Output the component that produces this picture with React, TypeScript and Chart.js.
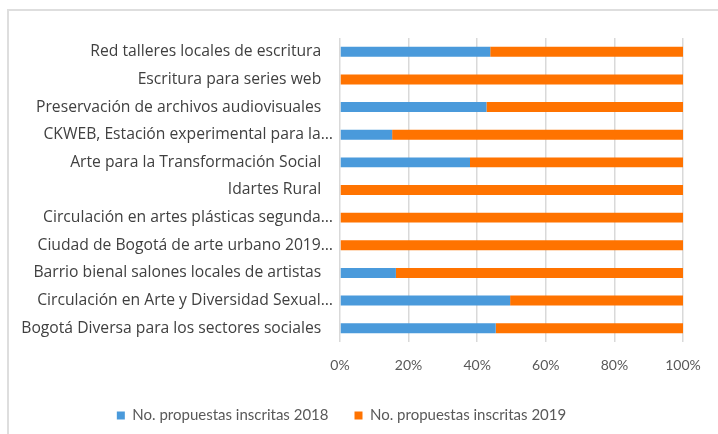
import React, { useEffect, useRef } from "react";
import { Chart, registerables } from "chart.js";

Chart.register(...registerables);

const categories = [
  "Red talleres locales de escritura",
  "Escritura para series web",
  "Preservación de archivos audiovisuales",
  "CKWEB, Estación experimental para la…",
  "Arte para la Transformación Social",
  "Idartes Rural",
  "Circulación en artes plásticas segunda…",
  "Ciudad de Bogotá de arte urbano 2019…",
  "Barrio bienal salones locales de artistas",
  "Circulación en Arte y Diversidad Sexual…",
  "Bogotá Diversa para los sectores sociales",
];

const share2018 = [43.8, 0, 42.7, 15.2, 37.9, 0, 0, 0, 16.3, 49.6, 45.4];
const share2019 = [56.2, 100, 57.3, 84.8, 62.1, 100, 100, 100, 83.7, 50.4, 54.6];

const xTicks = [0, 20, 40, 60, 80, 100];

const seriesNames = ["No. propuestas inscritas 2018", "No. propuestas inscritas 2019"];

export default function App() {
  const ref = useRef<HTMLCanvasElement | null>(null);

  useEffect(() => {
    if (!ref.current) return;
    const font = "Lato, 'Open Sans', sans-serif";
    const yFont = "'Open Sans', Lato, sans-serif";
    const chart = new Chart(ref.current, {
      type: "bar",
      data: {
        labels: categories,
        datasets: [
          {
            label: seriesNames[0],
            data: share2018,
            backgroundColor: "#4A9ADB",
            borderWidth: 0,
            barPercentage: 0.72,
            categoryPercentage: 0.5,
          },
          {
            label: seriesNames[1],
            data: share2019,
            backgroundColor: "#FF7300",
            borderWidth: 0,
            barPercentage: 0.72,
            categoryPercentage: 0.5,
          },
        ],
      },
      options: {
        indexAxis: "y",
        animation: false,
        responsive: false,
        maintainAspectRatio: false,
        layout: { padding: { left: 0, right: 35, top: 38, bottom: 1 } },
        scales: {
          x: {
            stacked: true,
            min: 0,
            max: 100,
            afterBuildTicks: (scale: any) => {
              scale.ticks = xTicks.map((v) => ({ value: v }));
            },
            afterFit: (scale: any) => {
              scale.height = 40;
            },
            grid: {
              color: "#d9d9d9",
              lineWidth: 1.5,
              drawTicks: true,
              tickLength: 1,
              tickColor: "rgba(0,0,0,0)",
            },
            border: { display: false },
            ticks: {
              padding: 14,
              color: "#595959",
              font: { family: font, size: 14 },
              callback: (v: any) => v + "%",
            },
          },
          y: {
            stacked: true,
            afterFit: (scale: any) => {
              scale.width = 340;
            },
            grid: { display: false, drawTicks: false },
            border: { display: false },
            ticks: {
              padding: 7,
              color: "#404040",
              font: { family: yFont, size: 15.7 },
              autoSkip: false,
              callback: function (this: any, v: any, i: number) {
                const s = categories[i];
                return s.endsWith("…") ? s : s + "\u2002\u2005";
              },
            },
          },
        },
        plugins: {
          legend: {
            position: "bottom",
            labels: {
              boxWidth: 8,
              boxHeight: 8,
              padding: 26,
              color: "#595959",
              font: { family: font, size: 15 },
            },
          },
          tooltip: { enabled: false },
        },
      },
    });
    return () => chart.destroy();
  }, []);

  return (
    <div style={{ position: "absolute", left: 0, top: 0, width: 718, height: 434, overflow: "hidden", background: "#fff" }}>
      <div
        style={{
          position: "absolute",
          left: 7,
          top: 9,
          width: 711,
          height: 425,
          borderTop: "2px solid #dedede",
          borderLeft: "2px solid #dedede",
          boxSizing: "border-box",
        }}
      />
      <canvas ref={ref} width={718} height={434} style={{ position: "absolute", left: 0, top: 0 }} />
    </div>
  );
}
